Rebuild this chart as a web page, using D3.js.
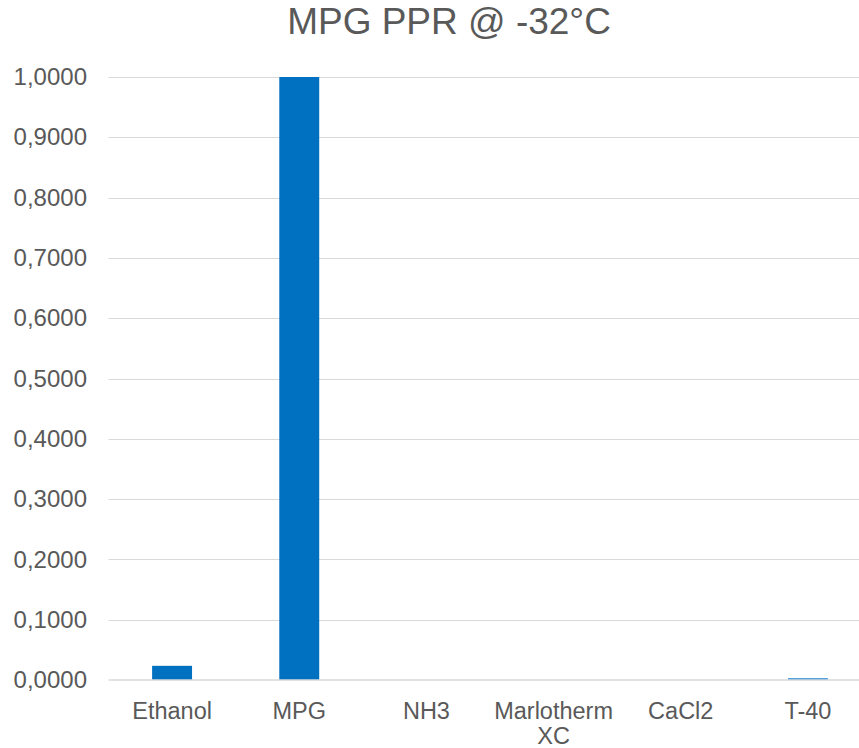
<!DOCTYPE html>
<html>
<head>
<meta charset="utf-8">
<script src="https://cdn.jsdelivr.net/npm/d3@7"></script>
<style>
  html, body { margin: 0; padding: 0; background: #fff; }
  svg { display: block; overflow: hidden; font-family: "Liberation Sans", Arial, sans-serif; }
</style>
</head>
<body>
<svg id="chart" width="859" height="748"></svg>
<script>
const title = "MPG PPR @ -32°C";
const categories = ["Ethanol", "MPG", "NH3", "Marlotherm XC", "CaCl2", "T-40"];
const values = [0.0235, 1.0, 0, 0, 0, 0.003];
const yTicks = [0, 0.1, 0.2, 0.3, 0.4, 0.5, 0.6, 0.7, 0.8, 0.9, 1.0];

const svg = d3.select("#chart");
const W = 859, H = 748;
const plot = { left: 108.5, right: 871.5, top: 77, bottom: 680 };
const textColor = "#595959";

const x = d3.scaleBand()
  .domain(categories)
  .range([plot.left, plot.right])
  .paddingInner(0.686)
  .paddingOuter(0.343);

const y = d3.scaleLinear().domain([0, 1]).range([plot.bottom, plot.top]);

// title
svg.append("text")
  .attr("x", 449).attr("y", 34)
  .attr("text-anchor", "middle")
  .attr("fill", textColor)
  .attr("font-size", 37)
  .text(title);

// horizontal gridlines
svg.append("g")
  .selectAll("line")
  .data(yTicks.filter(d => d > 0))
  .join("line")
  .attr("x1", plot.left).attr("x2", W)
  .attr("y1", d => Math.round(y(d)) + 0.5).attr("y2", d => Math.round(y(d)) + 0.5)
  .attr("stroke", "#d9d9d9").attr("stroke-width", 1);

// y axis labels
const fmt = d => d3.format(".4f")(d).replace(".", ",");
const yAxis = d3.axisLeft(y).tickValues(yTicks).tickFormat(fmt).tickSize(0).tickPadding(0);
const gy = svg.append("g").attr("transform", "translate(87,0)").call(yAxis);
gy.select(".domain").remove();
gy.selectAll("text")
  .attr("fill", textColor)
  .attr("font-size", 24)
  .attr("font-family", "'Liberation Sans', Arial, sans-serif");

// bars
svg.append("g")
  .selectAll("rect")
  .data(categories.map((c, i) => ({ c, v: values[i] })))
  .join("rect")
  .attr("x", d => x(d.c))
  .attr("width", x.bandwidth())
  .attr("y", d => y(d.v))
  .attr("height", d => y(0) - y(d.v))
  .attr("fill", d => d.c === "T-40" ? "#2e8ad8" : "#0070c0");

// baseline
svg.append("line")
  .attr("x1", plot.left).attr("x2", W)
  .attr("y1", y(0)).attr("y2", y(0))
  .attr("stroke", "#d9d9d9").attr("stroke-width", 1.5);

// category labels (wrapped to fit the band)
const xAxis = d3.axisBottom(x).tickSize(0).tickPadding(0);
const gx = svg.append("g").attr("transform", `translate(0,${plot.bottom})`).call(xAxis);
gx.select(".domain").remove();
gx.selectAll("text").each(function(d) {
  const t = d3.select(this);
  t.text(null)
    .attr("y", 0).attr("dy", null)
    .attr("fill", textColor)
    .attr("font-size", 23.5)
    .attr("font-family", "'Liberation Sans', Arial, sans-serif");
  const words = d.split(" ");
  words.forEach((w, i) => {
    t.append("tspan").attr("x", 0).attr("y", 39 + i * 25).text(w);
  });
});
</script>
</body>
</html>
